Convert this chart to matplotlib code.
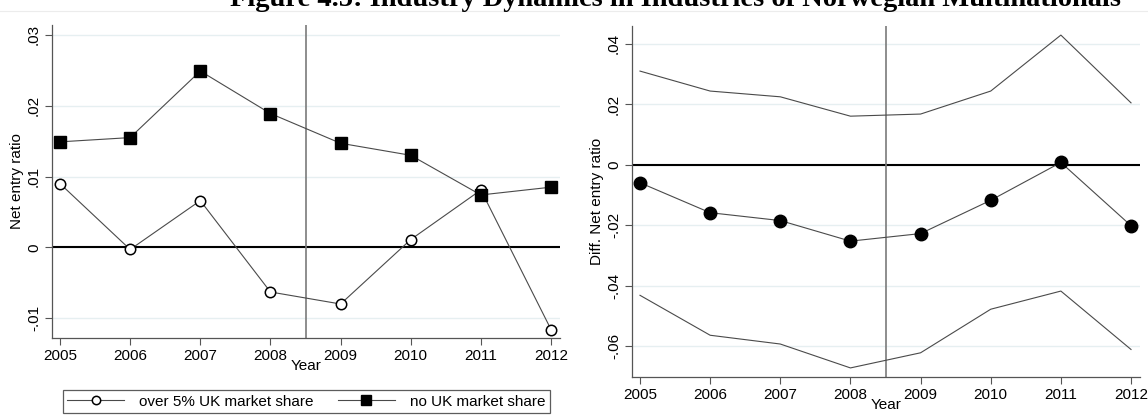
import matplotlib
matplotlib.use("Agg")
import matplotlib.pyplot as plt
from matplotlib.lines import Line2D

plt.rcParams['font.family'] = ['Liberation Sans', 'DejaVu Sans']

years = [2005, 2006, 2007, 2008, 2009, 2010, 2011, 2012]
over5_uk = [0.0090, -0.0003, 0.0066, -0.0063, -0.0080, 0.0011, 0.0081, -0.0116]
no_uk = [0.0149, 0.0155, 0.0249, 0.0189, 0.0147, 0.0130, 0.0074, 0.0085]

diff = [-0.0060, -0.0159, -0.0185, -0.0253, -0.0228, -0.0118, 0.0007, -0.0202]
diff_hi = [0.0309, 0.0243, 0.0224, 0.0160, 0.0167, 0.0243, 0.0428, 0.0204]
diff_lo = [-0.0432, -0.0564, -0.0593, -0.0672, -0.0622, -0.0478, -0.0418, -0.0611]

left_yticks = [-0.01, 0, 0.01, 0.02, 0.03]
left_ylabels = ['-.01', '0', '.01', '.02', '.03']
right_yticks = [-0.06, -0.04, -0.02, 0, 0.02, 0.04]
right_ylabels = ['-.06', '-.04', '-.02', '0', '.02', '.04']

W, H = 1148, 415
fig = plt.figure(figsize=(W / 100, H / 100), dpi=100)

title = "Figure 4.5: Industry Dynamics in Industries of Norwegian Multinationals"
fig.text(676 / W, 1 - 6 / H, title, ha='center', va='baseline',
         fontsize=20.5, fontweight='bold', family=['Liberation Serif', 'DejaVu Serif'])
fig.add_artist(Line2D([0, 1], [1 - 10.7 / H, 1 - 10.7 / H], transform=fig.transFigure,
                      color='#ececec', lw=0.8))

grid_c = '#e6eff1'
line_c = '#4a4a4a'
spine_c = '#555555'
fs = 11


def style(ax, yticks, ylabels, ylim, ylabel):
    ax.set_xlim(2004.886, 2012.128)
    ax.set_ylim(*ylim)
    ax.set_xticks(years)
    ax.set_xticklabels([str(y) for y in years], fontsize=fs)
    ax.set_yticks(yticks)
    ax.set_yticklabels(ylabels, fontsize=fs, rotation=90, va='center')
    for s in ['top', 'right']:
        ax.spines[s].set_visible(False)
    for s in ['left', 'bottom']:
        ax.spines[s].set_color(spine_c)
        ax.spines[s].set_linewidth(0.9)
    ax.tick_params(axis='both', direction='out', length=5, width=0.8, color=spine_c, pad=3)
    for yv in yticks:
        ax.axhline(yv, color=grid_c, lw=1.0, zorder=0)
    ax.axhline(0, color='black', lw=1.5, zorder=1)
    ax.axvline(2008.5, color='#7a7a7a', lw=1.2, zorder=1)
    ax.set_xlabel('Year', fontsize=fs, labelpad=-3)
    ax.set_ylabel(ylabel, fontsize=fs, labelpad=2)


ax1 = fig.add_axes([52 / W, 1 - 338 / H, 508 / W, 313 / H])
style(ax1, left_yticks, left_ylabels, (-0.0128, 0.0314), 'Net entry ratio')
l1, = ax1.plot(years, over5_uk, color=line_c, lw=0.8, marker='o', ms=7.5,
               mfc='white', mec='black', mew=1.1, zorder=3, label='over 5% UK market share')
l2, = ax1.plot(years, no_uk, color=line_c, lw=0.8, marker='s', ms=9,
               mfc='black', mec='black', zorder=3, label='no UK market share')

leg = fig.legend(handles=[l1, l2], loc='center', bbox_to_anchor=(306.5 / W, 1 - 401.5 / H),
                 ncol=2, fontsize=fs, frameon=True, fancybox=False, handlelength=3.7,
                 handletextpad=1.0, columnspacing=1.6, borderpad=0.3, markerscale=0.8)
leg.get_frame().set_edgecolor('#333333')
leg.get_frame().set_linewidth(0.9)

ax2 = fig.add_axes([632 / W, 1 - 376.7 / H, 508 / W, 350.7 / H])
style(ax2, right_yticks, right_ylabels, (-0.0701, 0.0458), 'Diff. Net entry ratio')
ax2.plot(years, diff_hi, color=line_c, lw=0.8, zorder=2)
ax2.plot(years, diff_lo, color=line_c, lw=0.8, zorder=2)
ax2.plot(years, diff, color=line_c, lw=0.8, marker='o', ms=9,
         mfc='black', mec='black', zorder=3)

fig.savefig('out.png', dpi=100)
